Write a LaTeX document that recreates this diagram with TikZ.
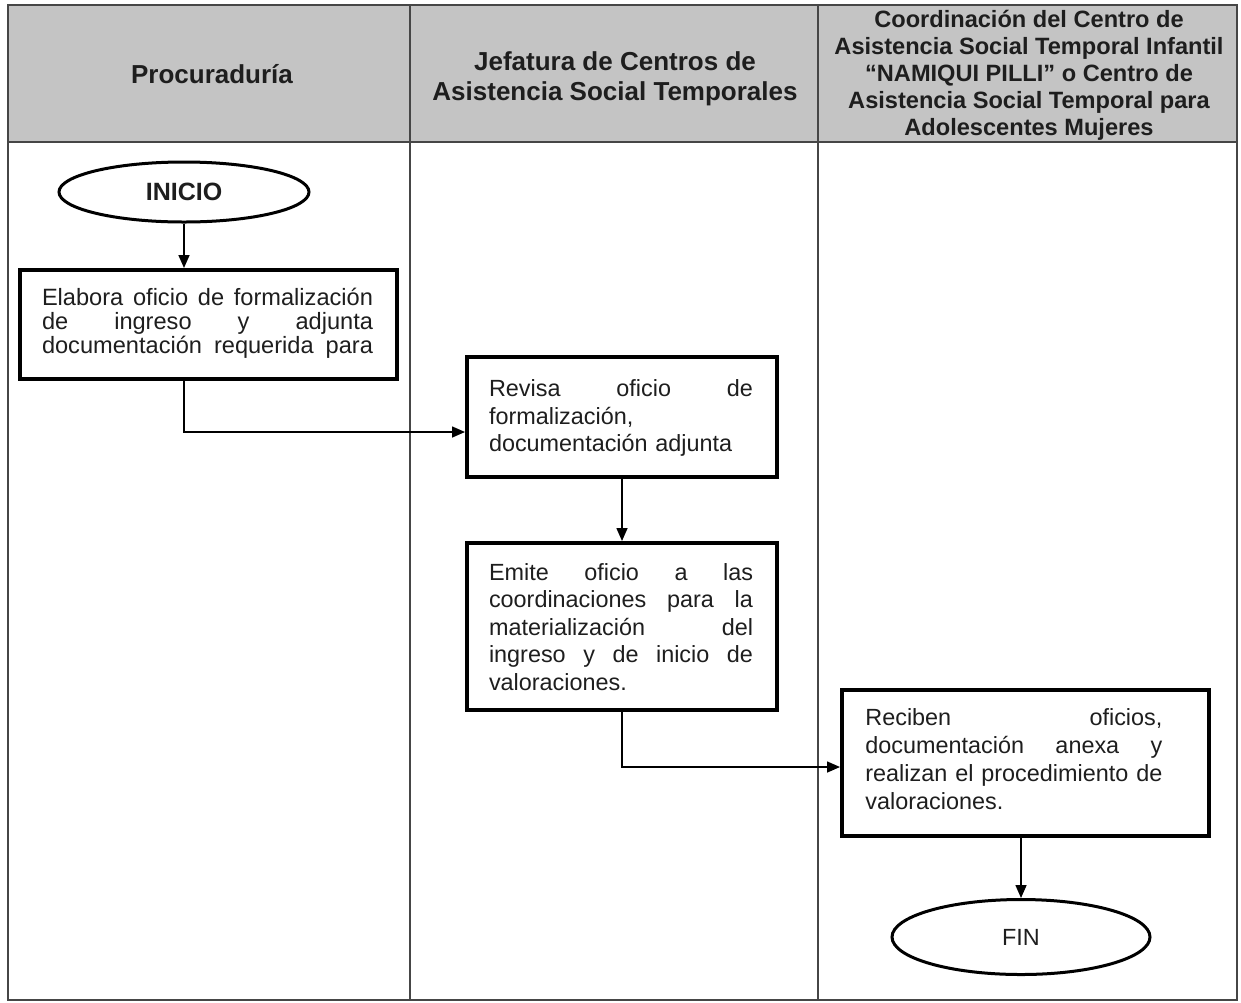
\documentclass[tikz,border=0pt]{standalone}
\usepackage{fontspec}
\setmainfont{Liberation Sans}
\usetikzlibrary{shapes.geometric,arrows.meta,calc}
\definecolor{hdrfill}{RGB}{196,196,196}
\definecolor{hdrtext}{RGB}{30,30,30}
\definecolor{bodytext}{RGB}{30,30,30}
\definecolor{gridline}{RGB}{70,70,70}
\newcommand{\jline}[1]{\makebox[\linewidth][s]{\spaceskip=0.28em plus 1fil\xspaceskip=0.28em plus 1fil\relax #1}}
\begin{document}
\begin{tikzpicture}[x=0.5pt,y=-0.5pt,
  lane/.style={draw=gridline,line width=0.75pt},
  hdr/.style={text=hdrtext,align=center,font=\bfseries\fontsize{13}{15}\selectfont},
  procbox/.style={draw=black,line width=2pt,rectangle,inner sep=0pt},
  boxtext/.style={text=bodytext,align=left,inner sep=0pt,font=\fontsize{11.7}{13.7}\selectfont},
  term/.style={draw=black,line width=1.5pt,ellipse,inner sep=0pt,text=bodytext},
  arr/.style={draw=black,line width=0.8pt,-{Triangle[length=6.5pt,width=5.5pt]}}]
\useasboundingbox (0,0) rectangle (1241,1002);
\fill[white] (0,0) rectangle (1241,1002);
% table
\fill[hdrfill] (8,5) rectangle (1237,142);
\draw[lane] (8,5) rectangle (1237,1000);
\draw[lane] (410,5) -- (410,1000);
\draw[lane] (818,5) -- (818,1000);
\draw[lane] (8,142) -- (1237,142);
% headers
\node[hdr] (h1) at (212,74) {Procuraduría};
\node[hdr] (h2) at (615,79) {Jefatura de Centros de\\Asistencia Social Temporales};
\node[hdr,font=\bfseries\fontsize{11.8}{13.5}\selectfont] (h3) at (1029,75) {Coordinación del Centro de\\Asistencia Social Temporal Infantil\\“NAMIQUI PILLI” o Centro de\\Asistencia Social Temporal para\\Adolescentes Mujeres};
% terminals
\node[term,minimum width=125pt,minimum height=30pt,font=\bfseries\fontsize{12.5}{15}\selectfont] (inicio) at (184,192) {INICIO};
\node[term,minimum width=129pt,minimum height=37.5pt,font=\fontsize{11.7}{14}\selectfont] (fin) at (1021,937) {FIN};
% process boxes
\node[procbox,minimum width=188.5pt,minimum height=54.5pt] (b1) at (208.5,324.5) {};
\node[boxtext,text width=165.5pt,font=\fontsize{11.8}{12}\selectfont] (t1) at (207.5,323) {\jline{Elabora oficio de formalización}\\\jline{de ingreso y adjunta}\\\jline{documentación requerida para}};
\node[procbox,minimum width=155pt,minimum height=60pt] (b2) at (622,417) {};
\node[boxtext,text width=132pt] (t2) at (621,418) {\jline{Revisa oficio de}\\formalización,\\documentación adjunta};
\node[procbox,minimum width=155pt,minimum height=83.5pt] (b3) at (622,626.5) {};
\node[boxtext,text width=132pt] (t3) at (621,627) {\jline{Emite oficio a las}\\\jline{coordinaciones para la}\\\jline{materialización del}\\\jline{ingreso y de inicio de}\\valoraciones.};
\node[procbox,minimum width=183.5pt,minimum height=73pt] (b4) at (1025.5,763) {};
\node[boxtext,text width=148.5pt,anchor=west,font=\fontsize{11.7}{14}\selectfont] (t4) at (865,759) {\jline{Reciben oficios,}\\\jline{documentación anexa y}\\\jline{realizan el procedimiento de}\\valoraciones.};
% connectors
\draw[arr] (inicio.south) -- (inicio.south |- b1.north);
\draw[arr] (inicio.south |- b1.south) |- ($(b2.west)+(0,15)$);
\draw[arr] (b2.south) -- (b3.north);
\draw[arr] (b3.south) |- ($(b4.west)+(0,4)$);
\draw[arr] (fin.north |- b4.south) -- (fin.north);
\end{tikzpicture}
\end{document}
